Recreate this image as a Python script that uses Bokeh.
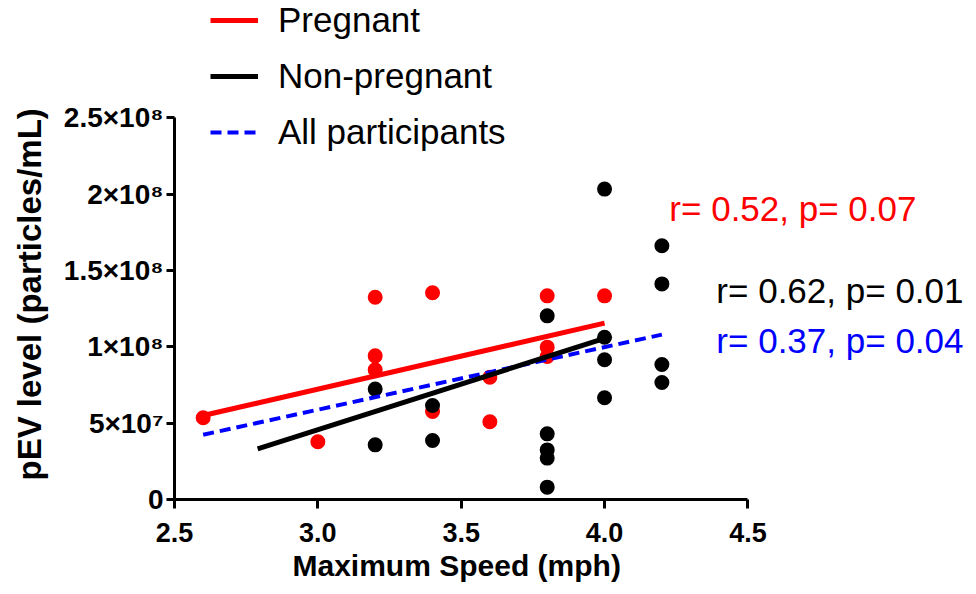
from bokeh.plotting import figure
from bokeh.models import Range1d, FixedTicker, Legend, LegendItem, ColumnDataSource, Title
from bokeh.core.properties import value
from bokeh.embed import file_html
from bokeh.resources import INLINE

# ---------------- data ----------------
preg_x = [2.6, 3.0, 3.2, 3.2, 3.2, 3.4, 3.4, 3.6, 3.6, 3.8, 3.8, 3.8, 4.0]
preg_y = [5.35e7, 3.78e7, 1.325e8, 9.41e7, 8.49e7, 1.354e8, 5.76e7, 8.01e7, 5.09e7,
          1.334e8, 9.98e7, 9.37e7, 1.334e8]

nonpreg_x = [3.2, 3.2, 3.4, 3.4, 3.8, 3.8, 3.8, 3.8, 3.8, 4.0, 4.0, 4.0, 4.0, 4.2, 4.2, 4.2, 4.2]
nonpreg_y = [7.23e7, 3.58e7, 6.16e7, 3.86e7, 1.203e8, 4.3e7, 3.25e7, 2.71e7, 8.1e6,
             2.033e8, 1.063e8, 9.15e7, 6.66e7, 1.662e8, 1.412e8, 8.84e7, 7.66e7]

# regression lines (end points)
preg_fit_x = [2.6, 4.0]
preg_fit_y = [5.5e7, 1.155e8]
nonpreg_fit_x = [2.79, 4.0]
nonpreg_fit_y = [3.32e7, 1.055e8]
all_fit_x = [2.6, 4.2]
all_fit_y = [4.24e7, 1.08e8]

series_names = ["Pregnant", "Non-pregnant", "All participants"]
stats_text = ["r= 0.52, p= 0.07", "r= 0.62, p= 0.01", "r= 0.37, p= 0.04"]

x_ticks = [2.5, 3.0, 3.5, 4.0, 4.5]
x_tick_labels = ["2.5", "3.0", "3.5", "4.0", "4.5"]
y_ticks = [0, 5e7, 1e8, 1.5e8, 2e8, 2.5e8]
y_tick_labels = ["0", "5×10⁷", "1×10⁸", "1.5×10⁸", "2×10⁸", "2.5×10⁸"]

x_title = "Maximum Speed (mph)"
y_title = "pEV level (particles/mL)"

# ---------------- layout ----------------
W, H = 968, 594
LEFT = 174
FRAME_H = 499
PX_PER_X = 286.7          # px per mph
PX_PER_Y = 381.7 / 2.5e8  # px per unit
X_END = 2.5 + (W - LEFT) / PX_PER_X
Y_END = FRAME_H / PX_PER_Y

RED, BLACK, BLUE = "#FF0000", "#000000", "#0000FF"
FONT = "Liberation Sans"

p = figure(width=W, height=H, x_range=Range1d(2.5, X_END), y_range=Range1d(0, Y_END),
           output_backend="svg", toolbar_location=None,
           min_border_left=LEFT, min_border_right=0, min_border_top=0,
           min_border_bottom=H - FRAME_H)
p.outline_line_color = None
p.grid.visible = False
p.background_fill_color = "white"
p.border_fill_color = "white"

# axes
xa = p.xaxis[0]
xa.bounds = (x_ticks[0], x_ticks[-1])
xa.ticker = FixedTicker(ticks=x_ticks)
xa.major_label_overrides = {t: l for t, l in zip(x_ticks, x_tick_labels)}
ya = p.yaxis[0]
ya.bounds = (y_ticks[0], y_ticks[-1])
ya.ticker = FixedTicker(ticks=y_ticks)
ya.major_label_overrides = {t: l for t, l in zip(y_ticks, y_tick_labels)}

for ax in (xa, ya):
    ax.axis_line_width = 3
    ax.axis_line_color = BLACK
    ax.major_tick_line_width = 3
    ax.major_tick_line_color = BLACK
    ax.major_tick_in = 0
    ax.minor_tick_line_color = None
    ax.major_label_text_font = FONT
    ax.major_label_text_font_style = "bold"
    ax.major_label_text_color = BLACK

xa.major_tick_out = 9
xa.major_label_standoff = 14
xa.major_label_text_font_size = "27px"

ya.major_tick_out = 8
ya.major_label_standoff = 3
ya.major_label_text_font_size = "28px"
# blank axis label: only a small gap between tick labels and the title
ya.axis_label = " "
ya.axis_label_text_font_size = "8px"
ya.axis_label_standoff = 1

# axis titles, placed along the bounded axes
xt = Title(text=x_title, align="left", offset=118, standoff=5,
           text_font=FONT, text_font_size="30px", text_font_style="bold",
           text_color=BLACK)
p.add_layout(xt, "below")
yt = Title(text=y_title, align="left", offset=19, standoff=0,
           text_font=FONT, text_font_size="33px", text_font_style="bold",
           text_color=BLACK)
p.add_layout(yt, "left")

# points
p.scatter(preg_x, preg_y, size=15, color=RED, line_color=None)
p.scatter(nonpreg_x, nonpreg_y, size=15, color=BLACK, line_color=None)

# regression lines
r_all = p.line(all_fit_x, all_fit_y, line_color=BLUE, line_width=4, line_dash="11 6")
r_non = p.line(nonpreg_fit_x, nonpreg_fit_y, line_color=BLACK, line_width=5)
r_preg = p.line(preg_fit_x, preg_fit_y, line_color=RED, line_width=5)

# stats text
ann = ColumnDataSource(dict(
    x=[4.226, 4.390, 4.390],
    y=[1.906e8, 1.371e8, 1.044e8],
    text=stats_text,
    color=[RED, BLACK, BLUE],
))
p.text(x="x", y="y", text="text", text_color="color", source=ann,
       text_font=value(FONT), text_font_size="35px", text_baseline="alphabetic",
       text_align="left")

legend = Legend(items=[
    LegendItem(label=series_names[0], renderers=[r_preg]),
    LegendItem(label=series_names[1], renderers=[r_non]),
    LegendItem(label=series_names[2], renderers=[r_all]),
], location=(36, 347))
legend.label_text_font = FONT
legend.label_text_font_size = "35px"
legend.label_text_color = BLACK
legend.glyph_width = 48
legend.glyph_height = 40
legend.label_height = 40
legend.label_standoff = 20
legend.spacing = 16
legend.padding = 0
legend.margin = 0
legend.border_line_color = None
legend.background_fill_alpha = 0
p.add_layout(legend)

open("out.html", "w").write(file_html(p, INLINE))
